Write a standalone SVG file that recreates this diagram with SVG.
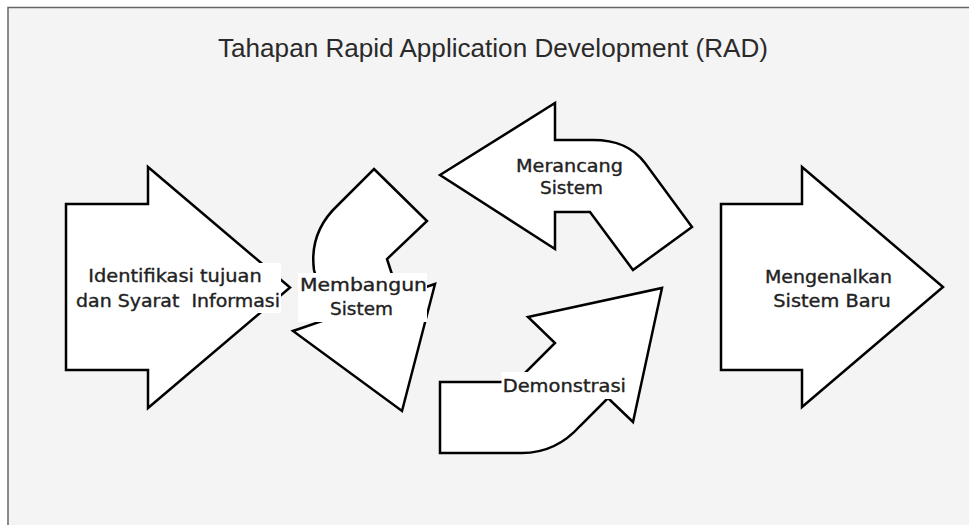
<svg xmlns="http://www.w3.org/2000/svg" width="969" height="525" viewBox="0 0 969 525">
  <style>
    .shape { fill: #ffffff; stroke: #000000; stroke-width: 2.5; stroke-linejoin: miter; }
    .lbl { font-family: "DejaVu Sans", Verdana, sans-serif; font-size: 17px; fill: #222222; stroke: #222222; stroke-width: 0.35; white-space: pre; }
    .lblbg { fill: #ffffff; stroke: none; }
    .title { font-family: "Liberation Sans", Arial, sans-serif; font-size: 26px; fill: #2a2a2a; }
  </style>

  <!-- page -->
  <rect x="0" y="0" width="969" height="525" fill="#ffffff"/>
  <rect x="8" y="7.5" width="961" height="517.5" fill="#f4f4f4"/>
  <path d="M8 525 V7.5 H969" fill="none" stroke="#666666" stroke-width="1.5"/>

  <text class="title" x="218" y="57" textLength="550" lengthAdjust="spacingAndGlyphs">Tahapan Rapid Application Development (RAD)</text>

  <g id="connectors"/>

  <!-- step 1: block arrow right -->
  <g id="identifikasi">
    <polygon class="shape" points="66,204 148,204 148,167 290,287.5 148,408 148,370 66,370"/>
    <rect class="lblbg" x="72" y="263" width="209" height="50"/>
    <text class="lbl" x="88.3" y="282" textLength="173.4" lengthAdjust="spacingAndGlyphs">Identifikasi tujuan</text>
    <text class="lbl" x="76" y="306.5" textLength="204" lengthAdjust="spacingAndGlyphs">dan Syarat  Informasi</text>
  </g>

  <!-- step 2: bent arrow pointing down -->
  <g id="membangun">
    <path class="shape" d="M374,169 L427,221 L387,259 L399,296 L435,284 L402,411 L293,331 L328,319 L314,270 Q309,232 338,205 Z"/>
    <rect class="lblbg" x="298" y="273" width="129" height="49"/>
    <text class="lbl" x="300" y="291" textLength="127" lengthAdjust="spacingAndGlyphs">Membangun</text>
    <text class="lbl" x="330" y="315" textLength="63" lengthAdjust="spacingAndGlyphs">Sistem</text>
  </g>

  <!-- step 3: bent arrow pointing left -->
  <g id="merancang">
    <path class="shape" d="M440,175 L555,103 L555,140 L593,140 C615,140 632,146 645,163 L692,227 L633,270 L590,212 L555,212 L555,249 Z"/>
    <text class="lbl" x="516" y="171.5" textLength="107" lengthAdjust="spacingAndGlyphs">Merancang</text>
    <text class="lbl" x="540" y="194" textLength="63" lengthAdjust="spacingAndGlyphs">Sistem</text>
  </g>

  <!-- step 4: bent arrow pointing up-right -->
  <g id="demonstrasi">
    <path class="shape" d="M440,382 L516,382 L555,343 L528,317 L662,288 L633,422 L608,398 L580,426 Q556,453 522,453 L440,453 Z"/>
    <rect class="lblbg" x="501.5" y="372" width="125.5" height="27"/>
    <text class="lbl" x="502.7" y="392" textLength="123.3" lengthAdjust="spacingAndGlyphs">Demonstrasi</text>
  </g>

  <!-- step 5: block arrow right -->
  <g id="mengenalkan">
    <polygon class="shape" points="721,204 802,204 802,167 943,287 802,407 802,370 721,370"/>
    <text class="lbl" x="765" y="283" textLength="127" lengthAdjust="spacingAndGlyphs">Mengenalkan</text>
    <text class="lbl" x="773.3" y="306.7" textLength="117.5" lengthAdjust="spacingAndGlyphs">Sistem Baru</text>
  </g>
</svg>
